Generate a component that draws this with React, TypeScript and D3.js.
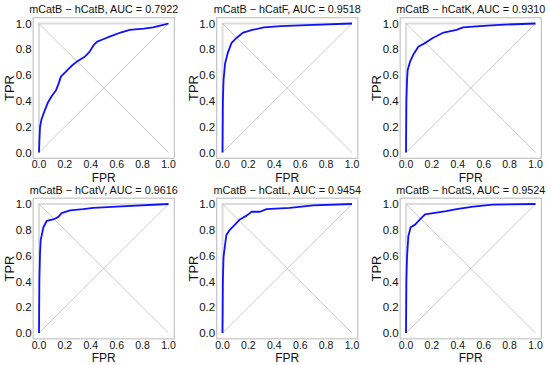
import React, { useRef, useEffect } from 'react';
import * as d3 from 'd3';

// panel titles
const titles = [
  'mCatB − hCatB, AUC = 0.7922',
  'mCatB − hCatF, AUC = 0.9518',
  'mCatB − hCatK, AUC = 0.9310',
  'mCatB − hCatV, AUC = 0.9616',
  'mCatB − hCatL, AUC = 0.9454',
  'mCatB − hCatS, AUC = 0.9524',
];

// ROC curves: [fpr, tpr]
const rocB: [number, number][] = [
  [0, 0], [0.003, 0.09], [0.008, 0.2], [0.02, 0.26], [0.046, 0.33], [0.07, 0.39],
  [0.1, 0.44], [0.13, 0.48], [0.15, 0.53], [0.17, 0.59], [0.2, 0.62], [0.25, 0.67],
  [0.3, 0.71], [0.35, 0.74], [0.39, 0.78], [0.42, 0.83], [0.45, 0.86], [0.5, 0.88],
  [0.55, 0.9], [0.63, 0.93], [0.7, 0.95], [0.81, 0.96], [0.88, 0.97], [0.96, 0.99], [1, 1],
];
const rocF: [number, number][] = [
  [0, 0], [0.003, 0.4], [0.008, 0.56], [0.02, 0.69], [0.04, 0.77], [0.07, 0.85],
  [0.11, 0.89], [0.16, 0.93], [0.23, 0.95], [0.32, 0.97], [0.45, 0.98], [0.7, 0.99], [1, 1],
];
const rocK: [number, number][] = [
  [0, 0], [0.003, 0.4], [0.008, 0.56], [0.013, 0.64], [0.03, 0.7], [0.057, 0.76],
  [0.095, 0.82], [0.15, 0.85], [0.21, 0.89], [0.29, 0.93], [0.39, 0.95], [0.44, 0.97],
  [0.57, 0.98], [0.72, 0.99], [1, 1],
];
const rocV: [number, number][] = [
  [0, 0], [0.003, 0.41], [0.008, 0.62], [0.013, 0.72], [0.034, 0.82], [0.06, 0.87],
  [0.11, 0.88], [0.15, 0.9], [0.175, 0.93], [0.24, 0.95], [0.34, 0.96], [0.42, 0.97],
  [0.6, 0.98], [1, 1],
];
const rocL: [number, number][] = [
  [0, 0], [0.003, 0.41], [0.008, 0.59], [0.018, 0.67], [0.03, 0.76], [0.057, 0.8],
  [0.096, 0.84], [0.134, 0.88], [0.186, 0.91], [0.225, 0.94], [0.29, 0.94], [0.34, 0.96],
  [0.52, 0.97], [0.7, 0.99], [1, 1],
];
const rocS: [number, number][] = [
  [0, 0], [0.003, 0.41], [0.008, 0.59], [0.018, 0.75], [0.036, 0.82], [0.07, 0.84],
  [0.108, 0.88], [0.147, 0.92], [0.21, 0.93], [0.31, 0.945], [0.39, 0.96], [0.52, 0.98],
  [0.67, 0.995], [1, 1],
];
const curves = [rocB, rocF, rocK, rocV, rocL, rocS];

const tickValues = [0, 0.2, 0.4, 0.6, 0.8, 1.0];

const App: React.FC = () => {
  const ref = useRef<SVGSVGElement | null>(null);

  useEffect(() => {
    if (!ref.current) return;
    const svg = d3.select(ref.current);
    svg.selectAll('*').remove();

    const font = '"Liberation Sans", Arial, sans-serif';
    const colX = [39, 222.5, 406];
    const rowY = [23.5, 204];
    const w = 129.5;
    const h = 129;
    const m = 0.045;

    curves.forEach((data, i) => {
      const col = i % 3;
      const row = Math.floor(i / 3);
      const x = d3.scaleLinear().domain([0, 1]).range([colX[col], colX[col] + w]);
      const y = d3.scaleLinear().domain([0, 1]).range([rowY[row] + h, rowY[row]]);
      const g = svg.append('g');

      // frame
      g.append('rect')
        .attr('x', x(-m))
        .attr('y', y(1 + m))
        .attr('width', x(1 + m) - x(-m))
        .attr('height', y(-m) - y(1 + m))
        .attr('fill', 'white')
        .attr('stroke', '#c4c4c4')
        .attr('stroke-width', 1.2);

      const line = d3.line<[number, number]>().x(d => x(d[0])).y(d => y(d[1]));

      // perfect classifier
      g.append('path')
        .attr('d', line([[0, 0], [0, 1], [1, 1]]))
        .attr('fill', 'none')
        .attr('stroke', '#dcdcdc')
        .attr('stroke-width', 2);

      // diagonals
      [[[0, 0], [1, 1]], [[0, 1], [1, 0]]].forEach(seg => {
        g.append('path')
          .attr('d', line(seg as [number, number][]))
          .attr('fill', 'none')
          .attr('stroke', '#bdbdbd')
          .attr('stroke-width', 0.8);
      });

      // roc curve
      g.append('path')
        .attr('d', line(data))
        .attr('fill', 'none')
        .attr('stroke', '#1010ff')
        .attr('stroke-width', 1.8)
        .attr('stroke-linejoin', 'round');

      // tick labels
      tickValues.forEach(t => {
        g.append('text')
          .attr('x', x(-m) - 1.5)
          .attr('y', y(t))
          .attr('dy', '0.36em')
          .attr('text-anchor', 'end')
          .attr('font-family', font)
          .attr('font-size', 11.5)
          .attr('fill', '#111')
          .text(t.toFixed(1));
        g.append('text')
          .attr('x', x(t))
          .attr('y', y(-m) + 10)
          .attr('text-anchor', 'middle')
          .attr('font-family', font)
          .attr('font-size', 10.5)
          .attr('fill', '#111')
          .text(t.toFixed(1));
      });

      // axis labels
      g.append('text')
        .attr('x', x(0.5))
        .attr('y', y(-m) + 23.2)
        .attr('text-anchor', 'middle')
        .attr('font-family', font)
        .attr('font-size', 12)
        .attr('fill', '#111')
        .text('FPR');
      g.append('text')
        .attr('transform', `translate(${colX[col] - 25},${y(0.5)}) rotate(-90)`)
        .attr('text-anchor', 'middle')
        .attr('font-family', font)
        .attr('font-size', 13)
        .attr('fill', '#111')
        .text('TPR');

      // title
      g.append('text')
        .attr('x', x(0.5))
        .attr('y', y(1 + m) - 4.5)
        .attr('text-anchor', 'middle')
        .attr('font-family', font)
        .attr('font-size', 10.8)
        .attr('fill', '#111')
        .text(titles[i]);
    });
  }, []);

  return (
    <svg
      ref={ref}
      width={550}
      height={365}
      style={{ position: 'absolute', left: 0, top: 0, background: 'white' }}
    />
  );
};

export default App;
